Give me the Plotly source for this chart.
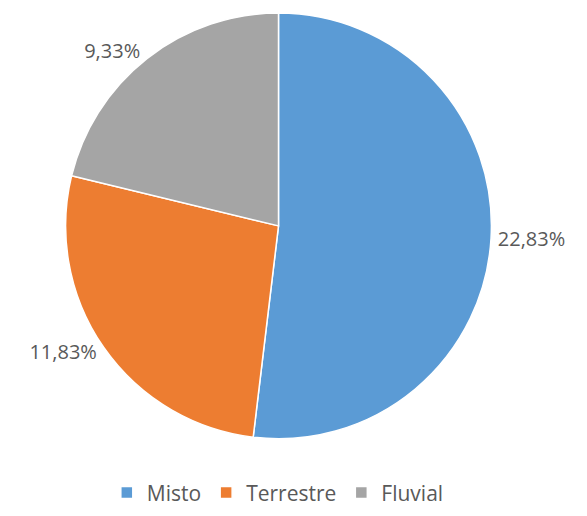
import plotly.graph_objects as go

categories = ["Misto", "Terrestre", "Fluvial"]
values = [22.83, 11.83, 9.33]
colors = ["#5B9BD5", "#ED7D31", "#A5A5A5"]

FONT = "Open Sans, Lato, sans-serif"

fig = go.Figure(go.Pie(
    labels=categories,
    values=values,
    sort=False,
    direction="clockwise",
    rotation=0,
    marker=dict(colors=colors, line=dict(color="white", width=1.5)),
    texttemplate="%{value:.2f}%",
    textposition="outside",
    textfont=dict(family=FONT, size=20, color="#595959"),
    domain=dict(x=[0.0959, 0.8385], y=[0.1535, 1.0]),
    hoverinfo="label+value",
))

fig.update_layout(
    width=579, height=508,
    margin=dict(l=0, r=0, t=0, b=0),
    paper_bgcolor="white",
    separators=",.",
    showlegend=True,
    legend=dict(
        orientation="h", x=0.466, xanchor="center", y=0.046, yanchor="middle",
        font=dict(family=FONT, size=21, color="#595959"),
        traceorder="normal",
    ),
)

fig.write_html("out.html")
